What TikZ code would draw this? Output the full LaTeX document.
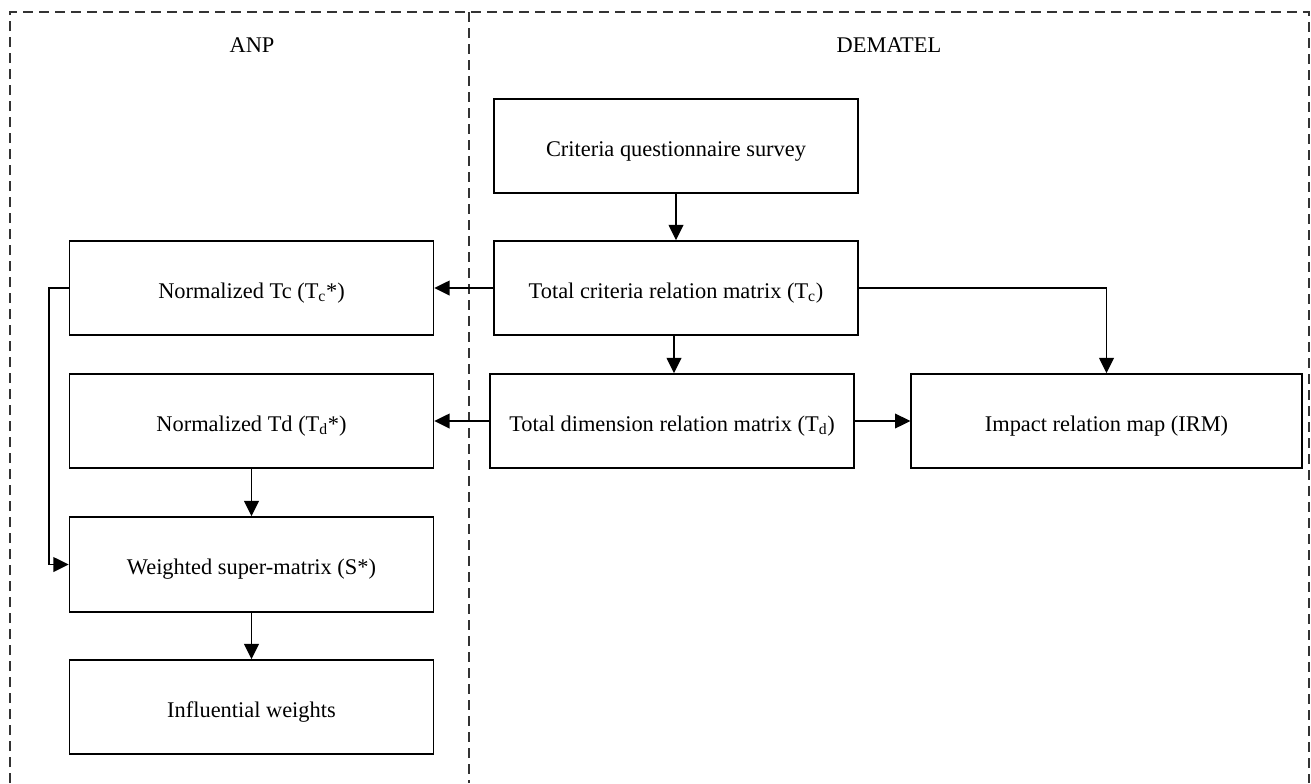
\documentclass[tikz,border=0pt]{standalone}
\usepackage{fontspec}
\setmainfont{Liberation Serif}
\usetikzlibrary{arrows.meta}
\begin{document}
\begin{tikzpicture}[x=0.75pt,y=-0.75pt,
  box/.style={draw=black,line width=1.1pt,minimum width=273pt,minimum height=70.5pt,inner sep=0pt,text height=16pt,text depth=0.4pt,font=\fontsize{16.8}{20}\selectfont},
  lbl/.style={font=\fontsize{16.8}{20}\selectfont,inner sep=0pt},
  arr/.style={line width=1.1pt,-{Triangle[length=11.5pt,width=11pt]}},
  frame/.style={draw=black!80,line width=0.9pt,dash pattern=on 7.5pt off 4.5pt}]
\useasboundingbox (0,0) rectangle (1311,783);
% panels
\draw[frame] (10,783) -- (10,12) -- (1309,12) -- (1309,783);
\draw[frame] (469,12) -- (469,783);
\node[lbl] (anp) at (252,45) {ANP};
\node[lbl] (dem) at (889,45) {DEMATEL};
% boxes
\node[box] (cqs) at (676,146) {Criteria questionnaire survey};
\node[box] (tc) at (676,288) {Total criteria relation matrix (T\textsubscript{c})};
\node[box] (ntc) at (251.5,288) {Normalized Tc (T\textsubscript{c}*)};
\node[box] (ntd) at (251.5,421) {Normalized Td (T\textsubscript{d}*)};
\node[box] (td) at (672,421) {Total dimension relation matrix (T\textsubscript{d})};
\node[box,minimum width=293pt] (irm) at (1106.5,421) {Impact relation map (IRM)};
\node[box,minimum height=71.25pt] (ws) at (251.5,564.5) {Weighted super-matrix (S*)};
\node[box] (iw) at (251.5,707) {Influential weights};
% connectors
\draw[arr] (cqs.south) -- (tc.north);
\draw[arr] (tc.west) -- (ntc.east);
\draw[arr] ([xshift=-1.5pt]tc.south) -- ([xshift=-1.5pt]tc.south |- td.north);
\draw[arr] (tc.east) -| (irm.north);
\draw[arr] (td.west) -- (ntd.east);
\draw[arr] (td.east) -- (irm.west);
\draw[arr] (ntd.south) -- (ws.north);
\draw[arr] (ws.south) -- (iw.north);
\draw[arr] (ntc.west) -- ++(-20,0) |- (ws.west);
\end{tikzpicture}
\end{document}
